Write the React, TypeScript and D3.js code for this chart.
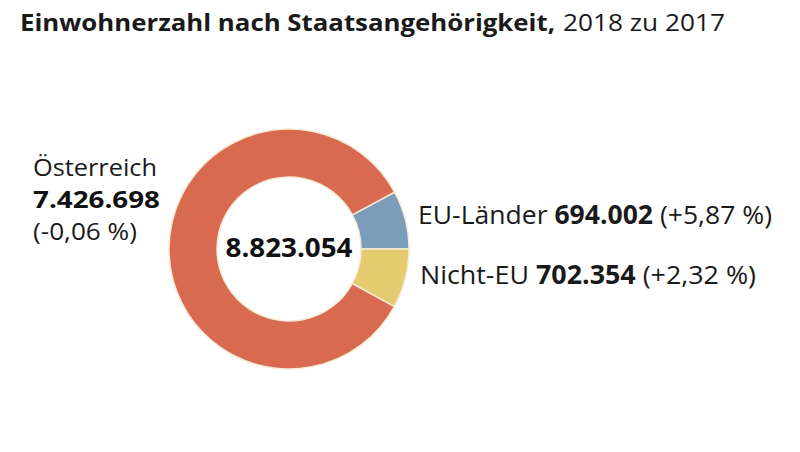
import React from "react";
import * as d3 from "d3";

const categories = ["EU-Länder", "Nicht-EU", "Österreich"];
const values = [694002, 702354, 7426698];
const valueLabels = ["694.002", "702.354", "7.426.698"];
const changeLabels = ["(+5,87 %)", "(+2,32 %)", "(-0,06 %)"];
const totalLabel = "8.823.054";
const colors = ["#7B9DBA", "#E4CB6F", "#D86A50"];

const W = 800;
const H = 452;
const FONT = "'Open Sans', 'Noto Sans', sans-serif";

export default function App() {
  const cx = 289;
  const cy = 249;
  const outerR = 120;
  const innerR = 72;
  const total = d3.sum(values);
  const euAngle = (values[0] / total) * 2 * Math.PI;
  const start = Math.PI / 2 - euAngle;
  const pie = d3
    .pie<number>()
    .sort(null)
    .value((d) => d)
    .startAngle(start)
    .endAngle(start + 2 * Math.PI);
  const arcs = pie(values);
  const arc = d3.arc<d3.PieArcDatum<number>>().innerRadius(innerR).outerRadius(outerR);

  return (
    <svg
      width={W}
      height={H}
      style={{ position: "absolute", left: 0, top: 0, background: "#fff" }}
      fontFamily={FONT}
    >
      <rect width={W} height={H} fill="#fff" />
      <text x={20} y={31} fontSize={24} fontWeight={700} fill="#1a1a1a" textLength={535} lengthAdjust="spacingAndGlyphs">
        Einwohnerzahl nach Staatsangehörigkeit,
      </text>
      <text x={563} y={31} fontSize={24} fill="#1a1a1a" textLength={162} lengthAdjust="spacingAndGlyphs">
        2018 zu 2017
      </text>

      <g transform={`translate(${cx},${cy})`}>
        {arcs.map((a, i) => (
          <path key={categories[i]} d={arc(a) || ""} fill={colors[i]} stroke="#F6EBD6" strokeWidth={1.5} />
        ))}
        <text x={0} y={8} textAnchor="middle" fontSize={27} fontWeight={700} fill="#111" textLength={127} lengthAdjust="spacingAndGlyphs">
          {totalLabel}
        </text>
      </g>

      {/* Österreich */}
      <text x={33} y={176} fontSize={23} fill="#1a1a1a" textLength={124} lengthAdjust="spacingAndGlyphs">
        {categories[2]}
      </text>
      <text x={33} y={208} fontSize={23} fontWeight={700} fill="#111" textLength={127} lengthAdjust="spacingAndGlyphs">
        {valueLabels[2]}
      </text>
      <text x={33} y={240} fontSize={23} fill="#1a1a1a" textLength={104} lengthAdjust="spacingAndGlyphs">
        {changeLabels[2]}
      </text>

      {/* EU-Länder */}
      <text x={418} y={224} fontSize={26} fill="#1a1a1a" textLength={354} lengthAdjust="spacingAndGlyphs">
        <tspan>{categories[0]} </tspan>
        <tspan fontWeight={700}>{valueLabels[0]}</tspan>
        <tspan> {changeLabels[0]}</tspan>
      </text>
      {/* Nicht-EU */}
      <text x={420} y={284} fontSize={26} fill="#1a1a1a" textLength={336} lengthAdjust="spacingAndGlyphs">
        <tspan>{categories[1]} </tspan>
        <tspan fontWeight={700}>{valueLabels[1]}</tspan>
        <tspan> {changeLabels[1]}</tspan>
      </text>
    </svg>
  );
}
